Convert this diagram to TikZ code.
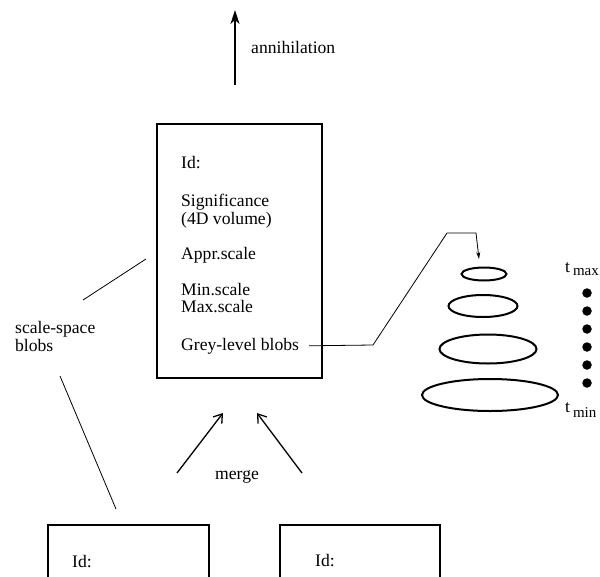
\documentclass[tikz,border=0pt]{standalone}
\usepackage{fontspec}
\setmainfont{Liberation Serif}
\usetikzlibrary{arrows.meta,positioning,shapes.geometric}

\begin{document}
\begin{tikzpicture}[x=1pt,y=-1pt,
    every node/.style={font=\fontsize{17.6}{18}\selectfont,inner sep=0pt},
    txt/.style={anchor=base west},
    box/.style={draw,rectangle,line width=1.8pt},
    blob/.style={draw,ellipse,line width=2pt},
    dot/.style={fill,circle,minimum size=9.5pt},
    thin line/.style={line width=0.8pt}]
    \clip (0,0) rectangle (600,576);
    % record for one scale-space blob
    \node[box,minimum width=165pt,minimum height=254pt] (rec) at (239.5,251) {};
    \node[txt] (id) at (181,168) {Id:};
    \node[txt] (sig) at (181,206) {Significance};
    \node[txt] (vol) at (181,224) {(4D volume)};
    \node[txt] (appr) at (181,259) {Appr.scale};
    \node[txt] (mins) at (181,295) {Min.scale};
    \node[txt] (maxs) at (181,312) {Max.scale};
    \node[txt] (grey) at (181,350) {Grey-level blobs};
    % records below
    \node[box,minimum width=161pt,minimum height=120pt,anchor=north west] (recl) at (47,524) {};
    \node[box,minimum width=160pt,minimum height=120pt,anchor=north west] (recr) at (279,524) {};
    \node[txt] (idl) at (72,567) {Id:};
    \node[txt] (idr) at (315,566) {Id:};
    % annihilation
    \coordinate (afoot) at (235,85);
    \coordinate (atop) at (235,10);
    \draw[line width=1.4pt,-{Stealth[length=14pt,width=9pt,inset=4pt]}] (afoot) -- (atop);
    \node[txt] (ann) at (251,53) {annihilation};
    % merge
    \coordinate (ml) at (177,473);
    \coordinate (mlt) at (223,413);
    \coordinate (mr) at (302,473);
    \coordinate (mrt) at (257,413);
    \draw[line width=1.3pt,-{Straight Barb[length=8pt,width=11pt]}] (ml) -- (mlt);
    \draw[line width=1.3pt,-{Straight Barb[length=8pt,width=11pt]}] (mr) -- (mrt);
    \node[txt] (merge) at (215,479) {merge};
    % scale-space blobs label
    \node[txt] (ss1) at (15,333) {scale-space};
    \node[txt] (ss2) at (15,351) {blobs};
    \coordinate (su) at (83,300);
    \coordinate (sue) at (146,259);
    \coordinate (sl) at (60,376);
    \coordinate (sle) at (116,509);
    \draw[thin line] (su) -- (sue);
    \draw[thin line] (sl) -- (sle);
    % grey-level blobs over scale
    \node[blob,minimum width=45pt,minimum height=13pt] (b1) at (484,274) {};
    \node[blob,minimum width=69pt,minimum height=22pt] (b2) at (483,306) {};
    \node[blob,minimum width=97pt,minimum height=29pt] (b3) at (488,349) {};
    \node[blob,minimum width=136pt,minimum height=32pt] (b4) at (490,395) {};
    \coordinate (g1) at (373,345);
    \coordinate (g2) at (447,233);
    \coordinate (g3) at (476,233);
    \coordinate (gtip) at (479,259);
    \draw[thin line,-{Stealth[length=7pt,width=4pt]}] ([xshift=10pt]grey.east) -- (g1) -- (g2) -- (g3) -- (gtip);
    \foreach \k in {0,...,5}
        \node[dot] (d\k) at (587,293+18*\k) {};
    \node[txt] (tmax) at (565,272) {t\,\raisebox{-3pt}{\fontsize{15}{15}\selectfont max}};
    \node[txt] (tmin) at (565,412) {t\,\raisebox{-5pt}{\fontsize{15}{15}\selectfont min}};
\end{tikzpicture}
\end{document}
